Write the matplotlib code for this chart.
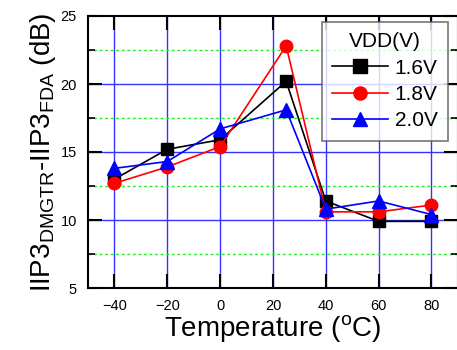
import matplotlib
matplotlib.use("Agg")
import matplotlib.pyplot as plt
from matplotlib.ticker import MultipleLocator

plt.rcParams['font.family'] = ['Liberation Sans', 'DejaVu Sans']
plt.rcParams['mathtext.fontset'] = 'custom'
plt.rcParams['mathtext.rm'] = 'Liberation Sans'
plt.rcParams['mathtext.it'] = 'Liberation Sans'

temps = [-40, -20, 0, 25, 40, 60, 80]
v16 = [13.0, 15.2, 15.9, 20.2, 11.4, 9.9, 9.9]
v18 = [12.7, 13.9, 15.4, 22.8, 10.6, 10.6, 11.1]
v20 = [13.8, 14.3, 16.7, 18.1, 10.8, 11.4, 10.4]
labels = ["1.6V", "1.8V", "2.0V"]
xticks = [-40, -20, 0, 20, 40, 60, 80]
yticks = [5, 10, 15, 20, 25]

fig = plt.figure(figsize=(4.57, 3.5), dpi=100)
ax = fig.add_axes([88/457, 62/350, 1 - 88/457 + 0.002, 272/350])

ax.set_xlim(-50, 90)
ax.set_ylim(5, 25)
ax.set_xticks(xticks)
ax.set_yticks(yticks)
ax.yaxis.set_minor_locator(MultipleLocator(2.5))

# grids
for x in xticks:
    ax.axvline(x, color='#3333ff', lw=1.0, zorder=1)
for y in [10, 15, 20]:
    ax.axhline(y, color='#3333ff', lw=1.0, zorder=1)
for y in [7.5, 12.5, 17.5, 22.5]:
    ax.axhline(y, color='#22ee22', lw=1.0, ls=(0, (2, 2)), zorder=1)

ax.plot(temps, v16, color='black', marker='s', ms=9, lw=1.2, label=labels[0], zorder=3)
ax.plot(temps, v18, color='red', marker='o', ms=9, lw=1.2, label=labels[1], zorder=3)
ax.plot(temps, v20, color='blue', marker='^', ms=10, lw=1.2, label=labels[2], zorder=3)

ax.tick_params(axis='both', which='major', direction='in', length=10, width=1.5,
               top=True, right=True, labelsize=10.5, pad=8)
ax.tick_params(axis='y', which='minor', direction='in', length=5, width=1.2, right=True, left=True)
for s in ax.spines.values():
    s.set_linewidth(1.5)

ax.set_xlabel('Temperature ($^{\\rm o}$C)', fontsize=20, labelpad=0)
ax.set_ylabel('IIP3$_{\\rm DMGTR}$-IIP3$_{\\rm FDA}$ (dB)', fontsize=20, labelpad=2)

leg = ax.legend(title='VDD(V)', loc='upper right', bbox_to_anchor=(0.973, 0.978),
                borderaxespad=0,
                fontsize=15, title_fontsize=15, frameon=True, fancybox=False,
                edgecolor='#555555', handlelength=2.7, borderpad=0.5,
                labelspacing=0.35, handletextpad=0.3, markerscale=1.05)
leg.get_frame().set_linewidth(1.2)
leg.set_zorder(5)

fig.savefig('out.png', dpi=100)
